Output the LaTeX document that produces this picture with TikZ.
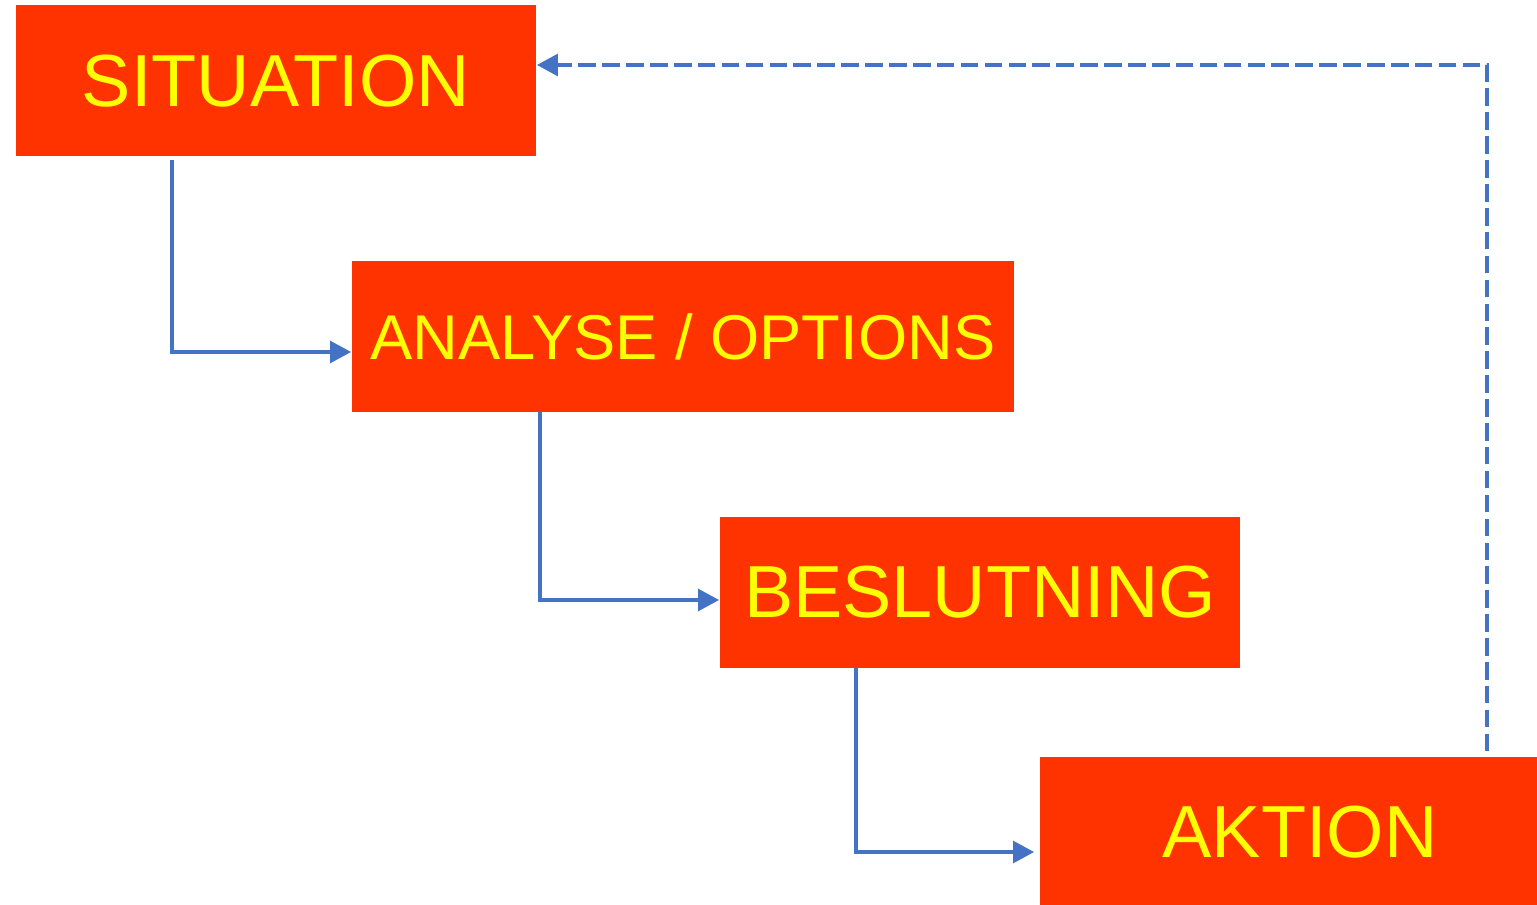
\documentclass[tikz,border=0pt]{standalone}
\usepackage{fontspec}
\setmainfont{Liberation Sans}
\usetikzlibrary{arrows.meta,positioning}
\definecolor{boxred}{HTML}{FF3300}
\definecolor{txtyellow}{HTML}{FFFF00}
\definecolor{linkblue}{HTML}{4472C4}

\begin{document}
\begin{tikzpicture}[on grid,
  stage/.style={fill=boxred, text=txtyellow, inner sep=0pt,
    minimum width=5.2cm, minimum height=1.51cm,
    font=\fontsize{21}{25}\selectfont},
  flow/.style={draw=linkblue, line width=1.4pt,
    -{Triangle[length=6pt,width=6pt]}},
  back/.style={flow, dash pattern=on 5pt off 1.8pt}]
  \useasboundingbox (0,0) rectangle (15.37,9.04);
  \path
  node[stage] (sit) at (2.76,8.23) {SITUATION}
  node[stage, minimum width=6.62cm, font=\fontsize{18}{22}\selectfont,
    below right=2.555cm and 4.07cm of sit] (ana) {ANALYSE / OPTIONS}
  node[stage, below right=2.56cm and 2.97cm of ana] (bes) {BESLUTNING}
  node[stage, below right=2.4cm and 3.2cm of bes] (akt) {AKTION}
  ;
  \draw[flow] ([shift={(-1.04,-0.03)}]sit.south) |- ([yshift=-0.155cm]ana.west);
  \draw[flow] ([shift={(-1.43,0.02)}]ana.south) |- ([yshift=-0.075cm]bes.west);
  \draw[flow, shorten >=0.05cm] ([shift={(-1.24,0.02)}]bes.south) |- ([yshift=-0.195cm]akt.west);
  \draw[back] ([shift={(1.87,0.05)}]akt.north) |- ([yshift=0.16cm]sit.east);
\end{tikzpicture}
\end{document}
